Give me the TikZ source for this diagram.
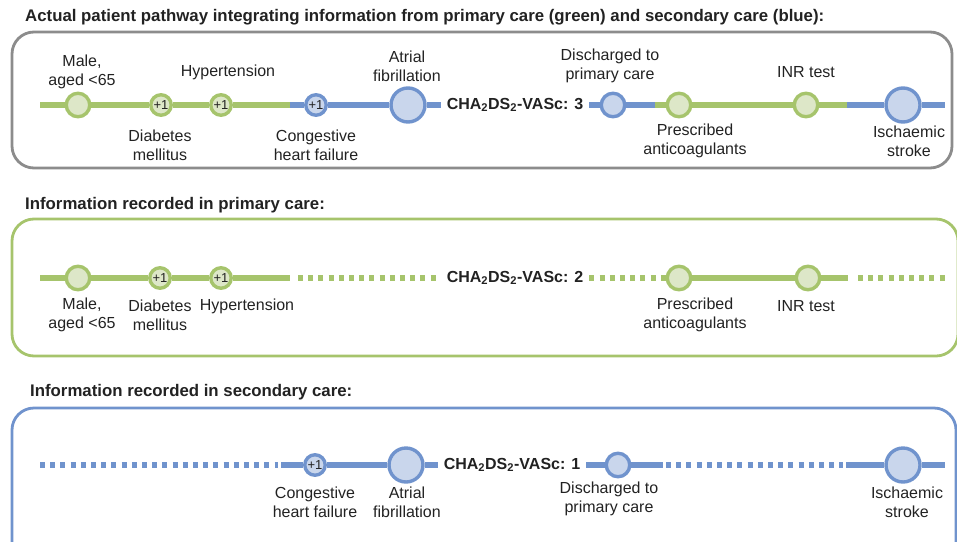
\documentclass[tikz,border=0pt]{standalone}
\usepackage{fontspec}
\setmainfont{Liberation Sans}
\usetikzlibrary{backgrounds}
\definecolor{gr}{HTML}{A6C46C}
\definecolor{grf}{HTML}{DDE7C8}
\definecolor{bl}{HTML}{7093CD}
\definecolor{blf}{HTML}{C9D6EC}
\definecolor{boxgray}{HTML}{8C8C8C}
\definecolor{txt}{HTML}{222222}
\begin{document}
\begin{tikzpicture}[x=1pt,y=-1pt,
  every node/.style={text=txt},
  gline/.style={draw=gr, line width=5.4pt},
  bline/.style={draw=bl, line width=5.4pt},
  gdot/.style={draw=gr, line width=5.6pt, dash pattern=on 5pt off 5.2pt},
  bdot/.style={draw=bl, line width=5.6pt, dash pattern=on 5pt off 5.2pt},
  gnode/.style={circle, draw=gr, fill=grf, line width=3.4pt, inner sep=0pt},
  bnode/.style={circle, draw=bl, fill=blf, line width=3.4pt, inner sep=0pt},
  plus/.style={minimum size=20.5pt, font=\fontsize{13}{13}\selectfont},
  mid/.style={minimum size=23.5pt},
  big/.style={minimum size=34pt},
  lbl/.style={align=center, inner sep=0pt, font=\fontsize{16}{19}\selectfont},
  score/.style={inner xsep=6pt, inner ysep=0pt, font=\fontsize{16}{19}\selectfont\bfseries},
  ttl/.style={anchor=west, inner sep=0pt, font=\fontsize{16.8}{19}\selectfont\bfseries},
  frame/.style={rounded corners=22pt, line width=2.8pt}
]
\useasboundingbox (0,0) rectangle (957,541);
\begin{scope}
\clip (0,0) rectangle (957,541);
% frames
\draw[frame, draw=boxgray] (12,32) rectangle (952,168);
\draw[frame, draw=gr] (12,219) rectangle (958,356);
\draw[frame, draw=bl] (12,408) rectangle (956,570);
\end{scope}

% titles
\node[ttl] (t1) at (25,17) {Actual patient pathway integrating information from primary care (green) and secondary care (blue):};
\node[ttl] (t2) at (25,205) {Information recorded in primary care:};
\node[ttl] (t3) at (30,392) {Information recorded in secondary care:};

% ---------- row 1 ----------
\node[gnode, mid] (m1) at (78,105) {};
\node[gnode, plus] (d1) at (161,105) {+1};
\node[gnode, plus] (h1) at (221,105) {+1};
\node[bnode, plus] (c1) at (316,105) {+1};
\node[bnode, big] (a1) at (408,105) {};
\node[score] (s1) at (515,105) {CHA\textsubscript{2}DS\textsubscript{2}-VASc: 3};
\node[bnode, mid] (dc1) at (613,105) {};
\node[gnode, mid] (p1) at (679,105) {};
\node[gnode, mid] (i1) at (806,105) {};
\node[bnode, big] (st1) at (903,105) {};
\coordinate (r1a) at (40,105);
\coordinate (r1b) at (290,105);
\coordinate (r1c) at (655,105);
\coordinate (r1d) at (847,105);
\coordinate (r1e) at (945,105);
\begin{scope}[on background layer]
\draw[gline] (r1a) -- (m1) -- (d1) -- (h1) -- (r1b);
\draw[bline] (r1b) -- (c1) -- (a1) -- (s1);
\draw[bline] (s1) -- (dc1) -- (r1c);
\draw[gline] (r1c) -- (p1) -- (i1) -- (r1d);
\draw[bline] (r1d) -- (st1) -- (r1e);
\end{scope}
\node[lbl] (l1m) at (82,72) {Male,\\aged <65};
\node[lbl] (l1h) at (228,72) {Hypertension};
\node[lbl] (l1a) at (407,66) {Atrial\\fibrillation};
\node[lbl] (l1dc) at (610,66) {Discharged to\\primary care};
\node[lbl] (l1i) at (806,72) {INR test};
\node[lbl] (l1d) at (160,145) {Diabetes\\mellitus};
\node[lbl] (l1c) at (316,145) {Congestive\\heart failure};
\node[lbl] (l1p) at (695,141) {Prescribed\\anticoagulants};
\node[lbl] (l1st) at (909,141) {Ischaemic\\stroke};

% ---------- row 2 ----------
\node[gnode, mid] (m2) at (78,278) {};
\node[gnode, plus] (d2) at (160,278) {+1};
\node[gnode, plus] (h2) at (221,278) {+1};
\node[score] (s2) at (515,278) {CHA\textsubscript{2}DS\textsubscript{2}-VASc: 2};
\node[gnode, mid] (p2) at (679,278) {};
\node[gnode, mid] (i2) at (808,278) {};
\coordinate (r2a) at (40,278);
\coordinate (r2b) at (290,278);
\coordinate (r2c) at (298,278);
\coordinate (r2d) at (848,278);
\coordinate (r2e) at (858,278);
\coordinate (r2f) at (945,278);
\begin{scope}[on background layer]
\draw[gline] (r2a) -- (m2) -- (d2) -- (h2) -- (r2b);
\draw[gdot] (r2c) -- (s2);
\draw[gdot] (s2) -- (p2);
\draw[gline] (p2) -- (i2) -- (r2d);
\draw[gdot] (r2e) -- (r2f);
\end{scope}
\node[lbl] (l2m) at (82,315) {Male,\\aged <65};
\node[lbl] (l2d) at (160,315) {Diabetes\\mellitus};
\node[lbl] (l2h) at (247,306) {Hypertension};
\node[lbl] (l2p) at (695,315) {Prescribed\\anticoagulants};
\node[lbl] (l2i) at (806,306) {INR test};

% ---------- row 3 ----------
\node[bnode, plus] (c3) at (315,465) {+1};
\node[bnode, big] (a3) at (406,465) {};
\node[score] (s3) at (512,465) {CHA\textsubscript{2}DS\textsubscript{2}-VASc: 1};
\node[bnode, mid] (dc3) at (618,465) {};
\node[bnode, big] (st3) at (903,465) {};
\coordinate (r3a) at (40,465);
\coordinate (r3b) at (278,465);
\coordinate (r3c) at (281,465);
\coordinate (r3d) at (663,465);
\coordinate (r3e) at (666,465);
\coordinate (r3f) at (843,465);
\coordinate (r3g) at (846,465);
\coordinate (r3h) at (945,465);
\begin{scope}[on background layer]
\draw[bdot] (r3a) -- (r3b);
\draw[bline] (r3c) -- (c3) -- (a3) -- (s3);
\draw[bline] (s3) -- (dc3) -- (r3d);
\draw[bdot] (r3e) -- (r3f);
\draw[bline] (r3g) -- (st3) -- (r3h);
\end{scope}
\node[lbl] (l3c) at (315,502) {Congestive\\heart failure};
\node[lbl] (l3a) at (407,502) {Atrial\\fibrillation};
\node[lbl] (l3dc) at (609,499) {Discharged to\\primary care};
\node[lbl] (l3st) at (907,502) {Ischaemic\\stroke};
\end{tikzpicture}
\end{document}
